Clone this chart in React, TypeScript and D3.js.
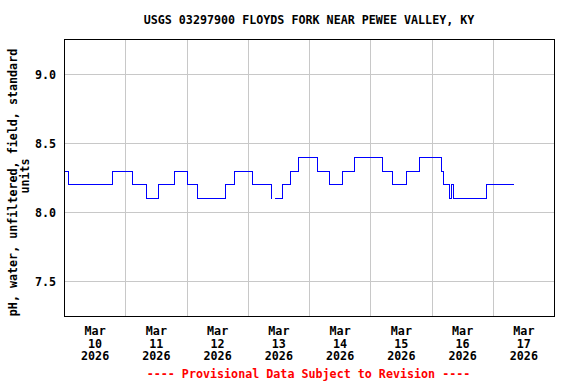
import React from "react";
import * as d3 from "d3";

// pH step readings, hours after Mar 10 2026 00:00 -> value (gap near Mar 13)
const segOneHours = [0, 1.5, 18.75, 26.5, 32.25, 36.75, 43, 48, 52.25, 63.25, 66.5, 73.5, 81];
const segOneValues = [8.3, 8.2, 8.3, 8.2, 8.1, 8.2, 8.3, 8.2, 8.1, 8.2, 8.3, 8.2, 8.1];
const segTwoHours = [82.5, 85.25, 88.5, 91.5, 99.25, 103.75, 108.75, 113.5, 124.5, 128.5, 134, 139, 147.75, 148.5, 151, 151.75, 152.5, 165.25, 176];
const segTwoValues = [8.1, 8.2, 8.3, 8.4, 8.3, 8.2, 8.3, 8.4, 8.3, 8.2, 8.3, 8.4, 8.3, 8.2, 8.1, 8.2, 8.1, 8.2, 8.2];

const dayLabels = ["10", "11", "12", "13", "14", "15", "16", "17"];
const yTicks = [7.5, 8.0, 8.5, 9.0];

const title = "USGS 03297900 FLOYDS FORK NEAR PEWEE VALLEY, KY";
const yLabel1 = "pH, water, unfiltered, field, standard";
const yLabel2 = "units";
const footer = "---- Provisional Data Subject to Revision ----";

const W = 576;
const H = 384;
const left = 64.5, right = 554.5, top = 39.5, bottom = 316.5;
const font = "'DejaVu Sans Mono', monospace";
const fs = 11.7;

const start = new Date(2026, 2, 10);
const toDate = (h: number) => new Date(start.getTime() + h * 3600e3);

export default function App() {
  const x = d3.scaleTime().domain([start, d3.timeDay.offset(start, 8)]).range([left, right]);
  const y = d3.scaleLinear().domain([7.25, 9.25]).range([bottom, top]);
  const snap = (v: number) => Math.round(v - 0.5) + 0.5;

  const line = d3
    .line<[number, number]>()
    .x((d) => x(toDate(d[0])))
    .y((d) => y(d[1]))
    .curve(d3.curveStepAfter);

  const seg1 = segOneHours.map((h, i) => [h, segOneValues[i]] as [number, number]);
  const seg2 = segTwoHours.map((h, i) => [h, segTwoValues[i]] as [number, number]);

  const midnights = d3.range(1, 8).map((i) => d3.timeDay.offset(start, i));

  return (
    <div style={{ position: "absolute", left: 0, top: 0 }}>
      <svg width={W} height={H} style={{ display: "block", background: "#fff" }}>
        <rect x={0} y={0} width={W} height={H} fill="#fff" />
        {/* grid */}
        {midnights.map((d, i) => (
          <line key={"gx" + i} x1={snap(x(d))} x2={snap(x(d))} y1={top} y2={bottom}
            stroke="#c8c8c8" strokeWidth={1} shapeRendering="crispEdges" />
        ))}
        {yTicks.map((t) => (
          <line key={"gy" + t} x1={left} x2={right} y1={snap(y(t))} y2={snap(y(t))}
            stroke="#c8c8c8" strokeWidth={1} shapeRendering="crispEdges" />
        ))}
        {/* data */}
        <path d={line(seg1) || ""} fill="none" stroke="#0000ff" strokeWidth={1} shapeRendering="crispEdges" />
        <path d={line(seg2) || ""} fill="none" stroke="#0000ff" strokeWidth={1} shapeRendering="crispEdges" />
        {/* frame */}
        <rect x={left} y={top} width={right - left} height={bottom - top} fill="none"
          stroke="#000" strokeWidth={1} shapeRendering="crispEdges" />
        {/* y tick labels */}
        {yTicks.map((t) => (
          <text key={"yl" + t} x={56} y={snap(y(t))} dy="0.36em" textAnchor="end"
            fontFamily={font} fontWeight="bold" fontSize={fs} fill="#000">
            {d3.format(".1f")(t)}
          </text>
        ))}
        {/* x tick labels */}
        {dayLabels.map((lab, i) => {
          const cx = x(d3.timeHour.offset(d3.timeDay.offset(start, i), 12));
          return (
            <text key={"xl" + lab} x={cx} textAnchor="middle" fontFamily={font}
              fontWeight="bold" fontSize={fs} fill="#000">
              <tspan x={cx} y={334.5}>Mar</tspan>
              <tspan x={cx} y={347.5}>{lab}</tspan>
              <tspan x={cx} y={360}>2026</tspan>
            </text>
          );
        })}
        {/* title */}
        <text x={309} y={24} textAnchor="middle" fontFamily={font} fontWeight="bold"
          fontSize={fs} fill="#000">{title}</text>
        {/* y label */}
        <text transform="translate(17,182.5) rotate(-90)" textAnchor="middle" fontFamily={font}
          fontWeight="bold" fontSize={fs} fill="#000">{yLabel1}</text>
        <text transform="translate(29,176) rotate(-90)" textAnchor="middle" fontFamily={font}
          fontWeight="bold" fontSize={fs} fill="#000">{yLabel2}</text>
        {/* footer */}
        <text x={308.5} y={378} textAnchor="middle" fontFamily={font} fontWeight="bold"
          fontSize={fs} fill="#ff0000">{footer}</text>
      </svg>
    </div>
  );
}
